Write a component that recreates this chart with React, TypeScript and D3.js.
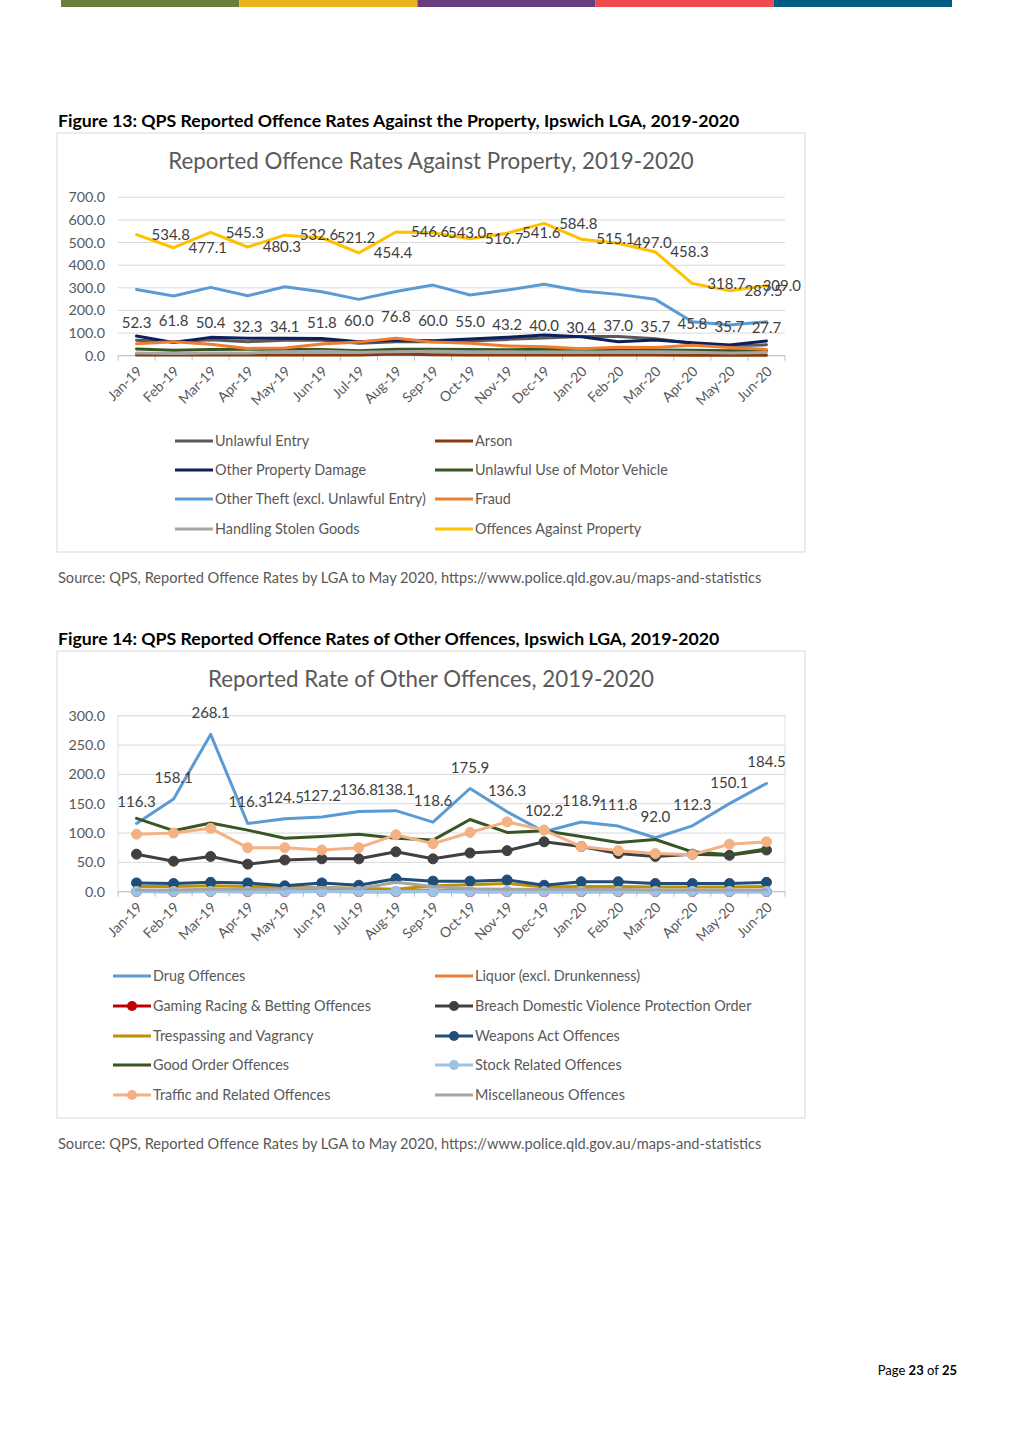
import React from 'react';
import * as d3 from 'd3';

const FONT = "Lato, 'Noto Sans', sans-serif";

const months = ['Jan-19','Feb-19','Mar-19','Apr-19','May-19','Jun-19','Jul-19','Aug-19','Sep-19','Oct-19','Nov-19','Dec-19','Jan-20','Feb-20','Mar-20','Apr-20','May-20','Jun-20'];

// Figure 13 series
const unlawfulEntry = [68,62,70,62,68,68,55,62,62,65,72,78,85,85,75,55,45,48];
const arson = [3,3,3,3,3,3,3,8,4,3,3,3,3,3,3,2,2,2];
const otherPropertyDamage = [87,58,81,77,77,76,62,69,66,74,81,91,84,62,69,57,47,65];
const unlawfulUseMV = [30,24,27,28,28,27,22,28,28,27,26,28,28,26,25,24,22,22];
const otherTheft = [293,264,302,265,305,283,249,284,312,268,290,316,286,271,249,150,136,150];
const fraud = [52.3,61.8,50.4,32.3,34.1,51.8,60.0,76.8,60.0,55.0,43.2,40.0,30.4,37.0,35.7,45.8,35.7,27.7];
const handlingStolenGoods = [12,10,12,12,18,20,15,18,20,18,18,15,15,18,18,15,12,14];
const offencesAgainstProperty = [534.8,477.1,545.3,480.3,532.6,521.2,454.4,546.6,543.0,516.7,541.6,584.8,515.1,497.0,458.3,318.7,287.5,309.0];
const ticks13 = [0,100,200,300,400,500,600,700];

// Figure 14 series
const drugOffences = [116.3,158.1,268.1,116.3,124.5,127.2,136.8,138.1,118.6,175.9,136.3,102.2,118.9,111.8,92.0,112.3,150.1,184.5];
const liquor = [2,2,3,2,2,3,2,2,3,2,2,2,2,2,2,2,2,2];
const gaming = [0.2,0.1,0.2,0.1,0.1,0.2,0.1,0.1,0.2,0.1,0.1,0.1,0.1,0.1,0.1,0.1,0.1,0.1];
const breachDV = [64,52,60,47,54,56,56,68,56,66,70,85,77,65,60,64,62,71];
const trespassing = [9,9,10,9,8,7,6,4,10,12,14,8,9,9,8,8,8,9];
const weaponsAct = [15,14,16,15,10,15,11,22,18,18,20,11,17,17,14,14,14,16];
const goodOrder = [125,104,117,105,91,94,98,91,88,123,101,104,94,84,89,68,63,73];
const stockRelated = [0.5,0.5,0.5,0.5,0.5,0.5,0.5,0.5,0.5,0.5,0.5,0.5,0.5,0.5,0.5,0.5,0.5,0.5];
const traffic = [98,100,108,75,75,71,75,97,82,101,119,105,77,70,65,63,81,85];
const miscellaneous = [3,3,4,4,5,7,5,16,9,5,4,4,4,4,3,3,3,3];
const ticks14 = [0,50,100,150,200,250,300];

const series13 = [
  { name: 'Unlawful Entry', values: unlawfulEntry, color: '#595959' },
  { name: 'Arson', values: arson, color: '#843c0c' },
  { name: 'Other Property Damage', values: otherPropertyDamage, color: '#0d1f5c' },
  { name: 'Unlawful Use of Motor Vehicle', values: unlawfulUseMV, color: '#375623' },
  { name: 'Other Theft (excl. Unlawful Entry)', values: otherTheft, color: '#5b9bd5' },
  { name: 'Fraud', values: fraud, color: '#ed7d31', labels: 'above' },
  { name: 'Handling Stolen Goods', values: handlingStolenGoods, color: '#a5a5a5' },
  { name: 'Offences Against Property', values: offencesAgainstProperty, color: '#ffc000', labels: 'right' },
];

const series14 = [
  { name: 'Drug Offences', values: drugOffences, color: '#5b9bd5', labels: 'above' },
  { name: 'Liquor (excl. Drunkenness)', values: liquor, color: '#ed7d31' },
  { name: 'Gaming Racing & Betting Offences', values: gaming, color: '#c00000', marker: true },
  { name: 'Breach Domestic Violence Protection Order', values: breachDV, color: '#404040', marker: true },
  { name: 'Trespassing and Vagrancy', values: trespassing, color: '#bf9000' },
  { name: 'Weapons Act Offences', values: weaponsAct, color: '#1f4e79', marker: true },
  { name: 'Good Order Offences', values: goodOrder, color: '#375623' },
  { name: 'Stock Related Offences', values: stockRelated, color: '#9dc3e6', marker: true },
  { name: 'Traffic and Related Offences', values: traffic, color: '#f4b183', marker: true },
  { name: 'Miscellaneous Offences', values: miscellaneous, color: '#a5a5a5' },
];

type Series = { name: string; values: number[]; color: string; labels?: string; marker?: boolean };

function Chart(props: {
  box: [number, number, number, number];
  title: string;
  titleY: number;
  yTop: number; yBottom: number; yMax: number; ticks: number[];
  series: Series[];
  legendCols: [number, number];
  legendRows: number[];
  plotBorder?: boolean;
}) {
  const { box, title, titleY, yTop, yBottom, yMax, ticks, series, legendCols, legendRows, plotBorder } = props;
  const x0 = 118, x1 = 785;
  const xb = d3.scaleBand<string>().domain(months).range([x0, x1]);
  const xc = (m: string) => (xb(m) as number) + xb.bandwidth() / 2;
  const y = d3.scaleLinear().domain([0, yMax]).range([yBottom, yTop]);
  const line = d3.line<number>().x((_, i) => xc(months[i])).y(v => y(v));
  const [bx, by, bw, bh] = box;
  return (
    <g fontFamily={FONT}>
      <rect x={bx} y={by} width={bw} height={bh} fill="#fff" stroke="#d9d9d9" />
      <text x={bx + bw / 2} y={titleY} textAnchor="middle" fontSize={22.3} fill="#595959">{title}</text>
      {plotBorder && <rect x={x0} y={yTop} width={x1 - x0} height={yBottom - yTop} fill="none" stroke="#dae3f3" />}
      {ticks.map(t => (
        <g key={t}>
          <line x1={x0} x2={x1} y1={y(t)} y2={y(t)} stroke="#d9d9d9" strokeWidth={1} />
          <text x={105} y={y(t)} dy="0.35em" textAnchor="end" fontSize={14.3} fill="#595959">{t.toFixed(1)}</text>
        </g>
      ))}
      <line x1={x0} x2={x1} y1={yBottom} y2={yBottom} stroke="#bfbfbf" />
      {months.map((m, i) => (
        <line key={'t' + i} x1={xb(m) as number} x2={xb(m) as number} y1={yBottom} y2={yBottom + 5} stroke="#bfbfbf" />
      ))}
      <line x1={x1} x2={x1} y1={yBottom} y2={yBottom + 5} stroke="#bfbfbf" />
      {months.map(m => (
        <text key={m} transform={`translate(${xc(m) + 3},${yBottom + 13}) rotate(-45)`} textAnchor="end" dy="0.35em" fontSize={14} fill="#595959">{m}</text>
      ))}
      {series.map(s => (
        <g key={s.name}>
          <path d={line(s.values) as string} fill="none" stroke={s.color} strokeWidth={3} strokeLinejoin="round" strokeLinecap="round" />
          {s.marker && s.values.map((v, i) => (
            <circle key={i} cx={xc(months[i])} cy={y(v)} r={5} fill={s.color} stroke={s.color} />
          ))}
        </g>
      ))}
      {series.filter(s => s.labels).map(s => (
        <g key={'l' + s.name}>
          {s.values.map((v, i) => {
            const px = xc(months[i]);
            const py = y(v);
            const txt = v.toFixed(1);
            if (s.labels === 'right') {
              const w = 38;
              const over = px + 15 + w > 801;
              return <text key={i} x={over ? 801 : px + 15} y={py} dy="0.35em" textAnchor={over ? 'end' : 'start'} fontSize={15} fill="#404040">{txt}</text>;
            }
            return <text key={i} x={px} y={py - 16} textAnchor="middle" fontSize={15} fill="#404040">{txt}</text>;
          })}
        </g>
      ))}
      {series.map((s, i) => {
        const col = i % 2;
        const row = Math.floor(i / 2);
        const lx = legendCols[col];
        const ly = legendRows[row];
        return (
          <g key={'lg' + s.name}>
            <line x1={lx} x2={lx + 38} y1={ly} y2={ly} stroke={s.color} strokeWidth={3} />
            {s.marker && <circle cx={lx + 19} cy={ly} r={5} fill={s.color} />}
            <text x={lx + 40} y={ly} dy="0.35em" fontSize={14.4} fill="#595959">{s.name}</text>
          </g>
        );
      })}
    </g>
  );
}

const barColors = ['#6a7f3a', '#e8b520', '#6a3d7e', '#ef4a50', '#005b84'];

export default function App() {
  const source = 'Source: QPS, Reported Offence Rates by LGA to May 2020, https://www.police.qld.gov.au/maps-and-statistics';
  return (
    <svg width={1013} height={1447} style={{ position: 'absolute', left: 0, top: 0, background: '#fff' }} fontFamily={FONT}>
      <rect x={0} y={0} width={1013} height={1447} fill="#fff" />
      {barColors.map((c, i) => (
        <rect key={c} x={61 + i * 178.2} y={0} width={178.2} height={7} fill={c} />
      ))}
      <text x={58} y={127} fontSize={17.7} fontWeight="bold" fill="#000">Figure 13: QPS Reported Offence Rates Against the Property, Ipswich LGA, 2019-2020</text>
      <Chart box={[57, 133, 748, 419]} title="Reported Offence Rates Against Property, 2019-2020" titleY={169}
        yTop={197.3} yBottom={355.7} yMax={700} ticks={ticks13} series={series13}
        legendCols={[175, 435]} legendRows={[441, 470, 499, 529]} />
      <text x={58} y={583} fontSize={14.6} fill="#595959">{source}</text>
      <text x={58} y={645} fontSize={17.7} fontWeight="bold" fill="#000">Figure 14: QPS Reported Offence Rates of Other Offences, Ipswich LGA, 2019-2020</text>
      <Chart box={[57, 651, 748, 467]} title="Reported Rate of Other Offences, 2019-2020" titleY={687}
        yTop={715.7} yBottom={891.7} yMax={300} ticks={ticks14} series={series14}
        legendCols={[113, 435]} legendRows={[976, 1006, 1036, 1065, 1095]} plotBorder />
      <text x={58} y={1149} fontSize={14.6} fill="#595959">{source}</text>
      <text x={957} y={1375} textAnchor="end" fontSize={13} fill="#000">
        <tspan>Page </tspan><tspan fontWeight="bold">23</tspan><tspan> of </tspan><tspan fontWeight="bold">25</tspan>
      </text>
    </svg>
  );
}
